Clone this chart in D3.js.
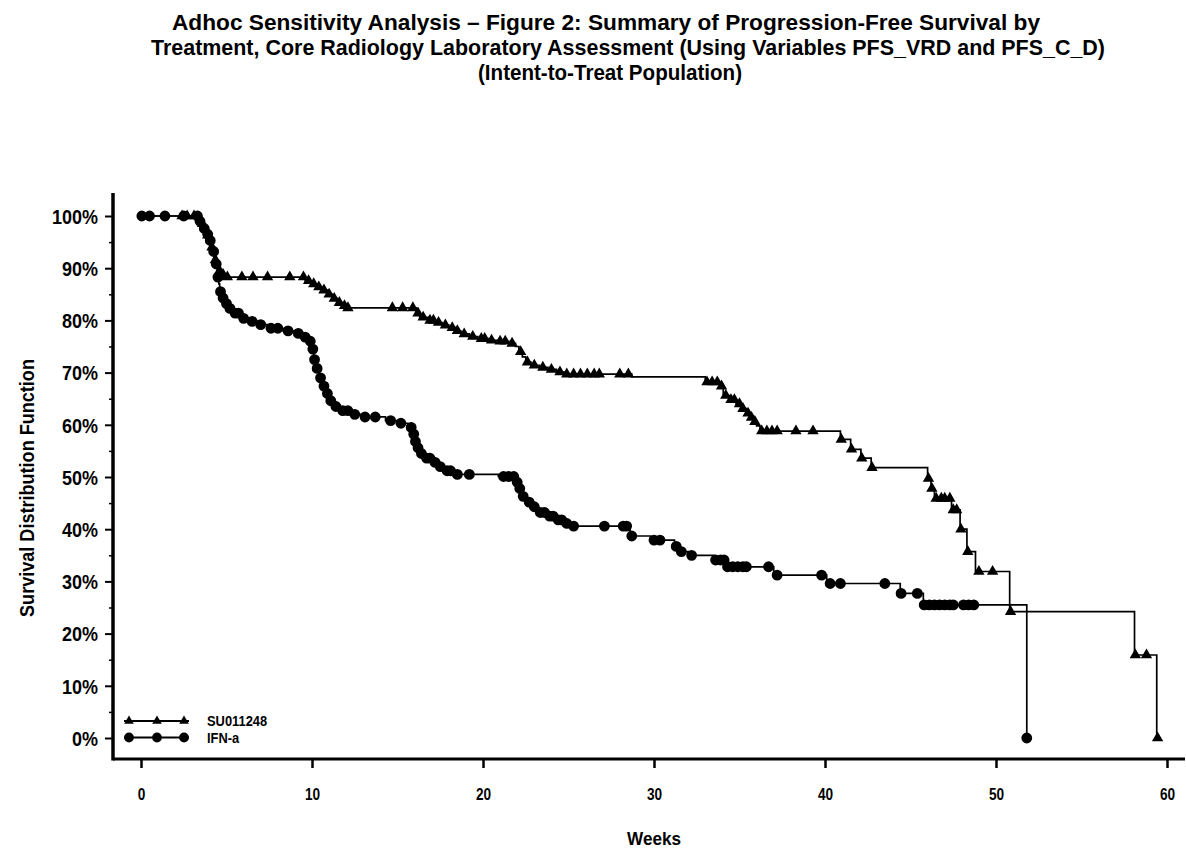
<!DOCTYPE html>
<html>
<head>
<meta charset="utf-8">
<script src="https://cdn.jsdelivr.net/npm/d3@7"></script>
<style>
  body { margin: 0; background: #fff; }
  svg text {
    font-family: "Liberation Sans", Arial, Helvetica, sans-serif;
    font-weight: bold;
    fill: #000;
  }
</style>
</head>
<body>
<svg id="chart" width="1186" height="850"></svg>
<script>
// ---- chart text ----
const titleLines = [
  "Adhoc Sensitivity Analysis \u2013 Figure 2: Summary of Progression-Free Survival by",
  "Treatment, Core Radiology Laboratory Assessment (Using Variables PFS_VRD and PFS_C_D)",
  "(Intent-to-Treat Population)"
];
const xLabel = "Weeks";
const yLabel = "Survival Distribution Function";
const seriesNames = ["SU011248", "IFN-a"];

// ---- axis ticks ----
const xTicks = [0, 10, 20, 30, 40, 50, 60];
const yTicks = [0, 10, 20, 30, 40, 50, 60, 70, 80, 90, 100];
const yMinorTicks = [5, 15, 25, 35, 45, 55, 65, 75, 85, 95];

// ---- SU011248: event times (weeks) and survival (%) after each event ----
const suTimes = [3.3, 3.5, 3.7, 3.85, 4.0, 4.1, 4.2, 4.3, 4.4, 4.5, 4.7, 5.0,
  9.6, 10.0, 10.3, 10.6, 10.9, 11.2, 11.5, 11.8, 12.0,
  16.1, 16.3, 16.8, 17.2, 17.6, 18.0, 18.4, 18.7, 19.2, 19.7, 20.3, 20.9, 21.5, 21.9,
  22.1, 22.3, 22.5, 22.8, 23.3, 23.8, 24.3, 24.8,
  28.7,
  33.0, 33.9, 34.05, 34.4, 34.8, 35.1, 35.4, 35.6, 35.8, 36.0, 36.2,
  40.9, 41.5, 42.1, 42.7,
  46.0, 46.2, 46.4, 47.4, 47.9, 48.3, 48.8,
  50.8, 58.1, 59.4];
const suSurv = [99.3, 98.5, 97.5, 96.3, 95.2, 94.0, 92.8, 91.6, 90.5, 89.5, 88.8, 88.3,
  87.6, 87.0, 86.4, 85.8, 85.0, 84.2, 83.4, 82.8, 82.4,
  81.4, 80.6, 80.0, 79.6, 79.1, 78.6, 78.0, 77.4, 76.9, 76.5, 76.2, 76.0, 75.6, 75.0,
  74.0, 73.0, 72.0, 71.4, 71.0, 70.6, 70.1, 69.7,
  69.2,
  68.2, 67.4, 65.6, 64.8, 64.0, 63.1, 62.2, 61.4, 60.6, 59.8, 58.8,
  57.2, 55.3, 53.6, 51.8,
  49.7, 47.8, 45.9, 43.7, 40.0, 35.7, 31.9,
  24.2, 15.9, 0];
// censored observations (weeks)
const suCensor = [2.4, 2.7, 3.1, 3.6, 3.9, 4.15, 4.35, 4.6, 4.8, 5.05, 5.9, 6.55, 7.4, 8.7,
  9.5, 9.8, 10.1, 10.4, 10.7, 11.0, 11.3, 11.6, 11.9, 12.1, 14.7, 15.3, 15.9,
  16.2, 16.5, 16.9, 17.1, 17.4, 17.8, 18.2, 18.5, 18.9, 19.4, 19.9, 20.1, 20.5, 21.0, 21.3,
  21.7, 22.2, 22.6, 23.0, 23.5, 24.0, 24.5, 24.9, 25.3, 25.7, 26.1, 26.5, 26.8, 28.0, 28.5,
  33.1, 33.4, 33.7, 33.95, 34.2, 34.5, 34.7, 35.0, 35.2, 35.5, 35.7, 35.9, 36.3, 36.6, 36.9,
  37.2, 38.3, 39.3, 40.95, 41.55, 42.15, 42.75, 46.05, 46.25, 46.5, 46.8, 47.0, 47.3, 47.5,
  47.7, 47.95, 48.35, 49.0, 49.8, 50.85, 58.15, 58.8, 59.45];

// ---- IFN-a: event times (weeks) and survival (%) after each event ----
const ifnTimes = [3.4, 3.6, 3.8, 4.0, 4.1, 4.2, 4.3, 4.35, 4.45, 4.5, 4.55, 4.6, 4.7, 4.9,
  5.1, 5.4, 5.8, 6.3, 6.9, 7.4, 8.3, 9.0, 9.4, 9.8, 10.0, 10.1, 10.2, 10.4, 10.6, 10.8,
  11.0, 11.3, 11.7, 12.3, 13.0, 14.3, 15.0, 15.6, 15.9, 16.0, 16.15, 16.35, 16.6, 17.0,
  17.4, 17.8, 18.3, 20.9, 21.9, 22.05, 22.2, 22.5, 22.9, 23.2, 23.7, 24.2, 24.7, 25.1,
  28.6, 29.8, 31.2, 31.4, 32.0, 33.5, 34.2, 37.0, 40.1, 44.4, 45.75, 51.8];
const ifnSurv = [99.0, 97.6, 96.5, 95.3, 94.2, 93.2, 92.0, 90.8, 89.6, 88.3, 87.0, 85.5, 84.3, 83.2,
  82.3, 81.4, 80.4, 79.8, 79.2, 78.5, 78.0, 77.5, 76.8, 76.0, 74.5, 72.5, 70.8, 69.0, 67.4, 66.0,
  64.6, 63.5, 62.7, 62.0, 61.5, 60.8, 60.3, 59.5, 58.2, 56.8, 55.6, 54.5, 53.6, 52.8,
  52.0, 51.2, 50.5, 50.1, 49.0, 47.8, 46.3, 45.2, 44.3, 43.2, 42.5, 41.8, 41.1, 40.6,
  38.7, 37.9, 36.7, 35.7, 35.0, 34.1, 32.8, 31.2, 29.6, 27.7, 25.5, 0];
// censored observations (weeks)
const ifnCensor = [0.05, 0.5, 1.4, 2.5, 3.3, 3.45, 3.7, 3.9, 4.05, 4.25, 4.4, 4.5, 4.65, 4.8,
  5.0, 5.2, 5.5, 5.7, 6.0, 6.5, 7.0, 7.6, 8.0, 8.6, 9.2, 9.6, 9.9, 10.05, 10.15, 10.3, 10.5,
  10.7, 10.9, 11.1, 11.4, 11.8, 12.1, 12.5, 13.1, 13.7, 14.6, 15.2, 15.8, 15.95, 16.05, 16.2,
  16.4, 16.7, 16.9, 17.2, 17.5, 17.9, 18.1, 18.5, 19.2, 21.2, 21.5, 21.8, 22.0, 22.15, 22.35,
  22.7, 23.0, 23.35, 23.6, 23.9, 24.1, 24.4, 24.6, 24.9, 25.3, 27.1, 28.2, 28.4, 28.7, 30.0,
  30.35, 31.3, 31.6, 32.2, 33.6, 33.9, 34.1, 34.3, 34.6, 34.9, 35.2, 35.4, 36.7, 37.2, 39.8,
  40.3, 40.9, 43.5, 44.45, 45.4, 45.8, 46.1, 46.4, 46.7, 47.0, 47.3, 47.5, 48.1, 48.4, 48.7, 51.8];

// ---- layout ----
const svg = d3.select("#chart");
const x = d3.scaleLinear().domain([0, 60]).range([141, 1167]);
const y = d3.scaleLinear().domain([0, 100]).range([738, 216]);
const axisLeftX = 113, axisBottomY = 759, axisTopY = 193, axisRightX = 1185;

// squeeze glyphs horizontally to get a narrow bold face
function condense(sel, factor) {
  sel.each(function () {
    const w = this.getComputedTextLength();
    d3.select(this).attr("textLength", w * factor).attr("lengthAdjust", "spacingAndGlyphs");
  });
}

// title
const titleLeft = [172, 151, 478];
const titleWidth = [868, 954, 264];
svg.append("g").selectAll("text").data(titleLines).join("text")
  .attr("x", (d, i) => titleLeft[i])
  .attr("y", (d, i) => 30 + i * 25)
  .attr("textLength", (d, i) => titleWidth[i])
  .attr("lengthAdjust", "spacingAndGlyphs")
  .style("font-size", "22px")
  .text(d => d);

// axes
const yAxis = svg.append("g")
  .attr("transform", `translate(${axisLeftX},0)`)
  .call(d3.axisLeft(y).tickValues(yTicks).tickFormat(d => d + "%").tickSize(8).tickPadding(7));
yAxis.select(".domain").remove();
yAxis.selectAll("line").attr("stroke", "#000").attr("stroke-width", 2);
yAxis.selectAll("text").style("font-size", "20px").attr("dy", "0.36em").call(condense, 0.9);

const yMinor = svg.append("g")
  .attr("transform", `translate(${axisLeftX},0)`)
  .call(d3.axisLeft(y).tickValues(yMinorTicks).tickFormat("").tickSize(4));
yMinor.select(".domain").remove();
yMinor.selectAll("line").attr("stroke", "#000").attr("stroke-width", 1.5);

const xAxis = svg.append("g")
  .attr("transform", `translate(0,${axisBottomY})`)
  .call(d3.axisBottom(x).tickValues(xTicks).tickSize(9).tickPadding(21));
xAxis.select(".domain").remove();
xAxis.selectAll("line").attr("stroke", "#000").attr("stroke-width", 2.5);
xAxis.selectAll("text").style("font-size", "16px").call(condense, 0.85);

svg.append("line")
  .attr("x1", axisLeftX).attr("x2", axisLeftX)
  .attr("y1", axisTopY).attr("y2", axisBottomY + 1.5)
  .attr("stroke", "#000").attr("stroke-width", 3.5);
svg.append("line")
  .attr("x1", axisLeftX).attr("x2", axisRightX)
  .attr("y1", axisBottomY).attr("y2", axisBottomY)
  .attr("stroke", "#000").attr("stroke-width", 3);

// axis titles
svg.append("text")
  .attr("x", (x(0) + x(60)) / 2).attr("y", 845)
  .attr("text-anchor", "middle")
  .style("font-size", "19px")
  .text(xLabel)
  .call(condense, 0.9);
svg.append("text")
  .attr("transform", `translate(34,488) rotate(-90)`)
  .attr("text-anchor", "middle")
  .style("font-size", "21px")
  .text(yLabel)
  .call(condense, 0.86);

// ---- survival curves ----
function stepPoints(times, surv, censor) {
  const pts = [[0, 100]];
  times.forEach((t, i) => pts.push([t, surv[i]]));
  const lastT = d3.max(censor);
  if (lastT > times[times.length - 1]) pts.push([lastT, surv[surv.length - 1]]);
  return pts;
}
function survAt(times, surv, t) {
  let s = 100;
  for (let i = 0; i < times.length; i++) { if (times[i] <= t) s = surv[i]; else break; }
  return s;
}
const line = d3.line().x(d => x(d[0])).y(d => y(d[1])).curve(d3.curveStepAfter);

const series = [
  { name: seriesNames[0], times: suTimes, surv: suSurv, censor: suCensor, symbol: d3.symbolTriangle, size: 56 },
  { name: seriesNames[1], times: ifnTimes, surv: ifnSurv, censor: ifnCensor, symbol: d3.symbolCircle, size: 92 }
];

series.forEach(s => {
  svg.append("path")
    .datum(stepPoints(s.times, s.surv, s.censor))
    .attr("d", line)
    .attr("fill", "none")
    .attr("stroke", "#000")
    .attr("stroke-width", 1.7);
});
series.forEach(s => {
  svg.append("g").selectAll("path")
    .data(s.censor)
    .join("path")
    .attr("transform", t => `translate(${x(t)},${y(survAt(s.times, s.surv, t))})`)
    .attr("d", d3.symbol(s.symbol, s.size))
    .attr("fill", "#000");
});

// ---- legend ----
const legend = svg.append("g");
const legendRows = [
  { name: seriesNames[0], symbol: d3.symbolTriangle, size: 40, yPos: 721 },
  { name: seriesNames[1], symbol: d3.symbolCircle, size: 75, yPos: 737.5 }
];
legendRows.forEach(r => {
  legend.append("line")
    .attr("x1", 124).attr("x2", 189).attr("y1", r.yPos).attr("y2", r.yPos)
    .attr("stroke", "#000").attr("stroke-width", 1.8);
  [129, 157, 184].forEach(px => {
    legend.append("path")
      .attr("transform", `translate(${px},${r.yPos})`)
      .attr("d", d3.symbol(r.symbol, r.size))
      .attr("fill", "#000");
  });
  legend.append("text")
    .attr("x", 207).attr("y", r.yPos).attr("dy", "0.36em")
    .style("font-size", "14px")
    .text(r.name)
    .call(condense, 0.92);
});
</script>
</body>
</html>
